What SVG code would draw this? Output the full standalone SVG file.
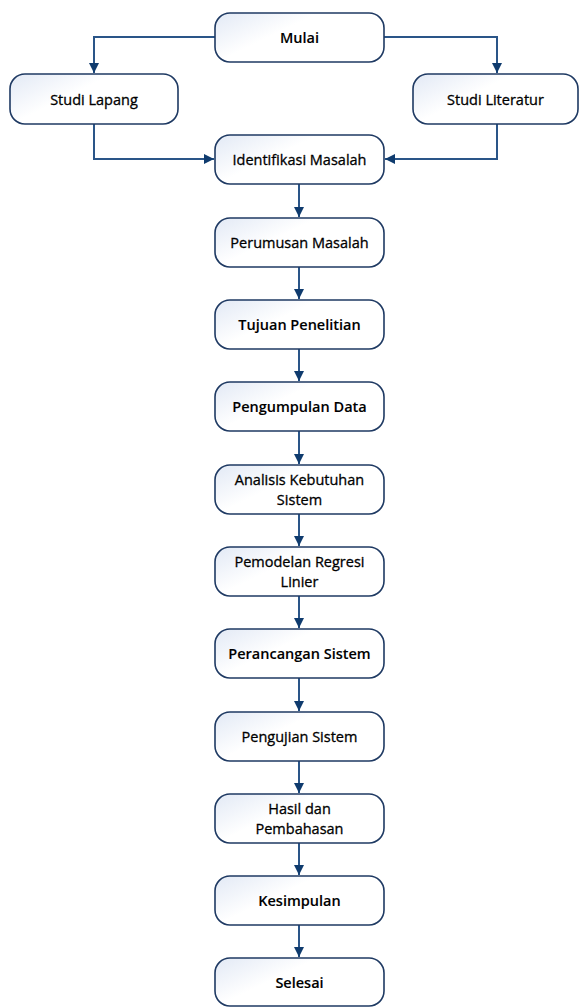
<svg xmlns="http://www.w3.org/2000/svg" width="579" height="1008" viewBox="0 0 579 1008">
<defs>
<linearGradient id="g" x1="0" y1="0" x2="1" y2="0.6">
<stop offset="0" stop-color="#E2E9F5"/>
<stop offset="0.45" stop-color="#FFFFFF"/>
<stop offset="1" stop-color="#FFFFFF"/>
</linearGradient>
<marker id="ah" viewBox="0 0 10 10" refX="10" refY="5" markerWidth="10" markerHeight="10" markerUnits="userSpaceOnUse" orient="auto">
<path d="M0,0 L10,5 L0,10 Z" fill="#0F3B6E"/>
</marker>
<style>
.box{fill:url(#g);stroke:#1F3A63;stroke-width:1.6}
.t{font-family:"Open Sans","Noto Sans",sans-serif;font-size:14.5px;fill:#000;stroke:#000;stroke-width:0.3;text-anchor:middle;dominant-baseline:central}
.b{font-weight:600;stroke-width:0.1}
.c{fill:none;stroke:#2A5588;stroke-width:2;marker-end:url(#ah)}
</style>
</defs>
<rect width="579" height="1008" fill="#FFFFFF"/>
<g id="connectors">
<path class="c" d="M215,37 H94 V73"/>
<path class="c" d="M384,37 H497 V73"/>
<path class="c" d="M94,124 V159 H214"/>
<path class="c" d="M497,124 V159 H385"/>
<path class="c" d="M299,184 V217"/>
<path class="c" d="M299,267 V299"/>
<path class="c" d="M299,349 V381"/>
<path class="c" d="M299,431 V464"/>
<path class="c" d="M299,514 V546"/>
<path class="c" d="M299,596 V628"/>
<path class="c" d="M299,678 V711"/>
<path class="c" d="M299,761 V793"/>
<path class="c" d="M299,843 V875"/>
<path class="c" d="M299,925 V957"/>
</g>
<g id="mulai"><rect class="box" x="215" y="13" width="169" height="49" rx="15"/><text class="t b" x="299.5" y="37.5">Mulai</text></g>
<g id="studi-lapang"><rect class="box" x="10" y="74" width="168" height="50" rx="15"/><text class="t" x="94" y="99">Studi Lapang</text></g>
<g id="studi-literatur"><rect class="box" x="413" y="74" width="165" height="50" rx="15"/><text class="t" x="495.5" y="99">Studi Literatur</text></g>
<g id="identifikasi"><rect class="box" x="215" y="135" width="169" height="49" rx="15"/><text class="t" x="299.5" y="159.5">Identifikasi Masalah</text></g>
<g id="perumusan"><rect class="box" x="215" y="218" width="169" height="49" rx="15"/><text class="t" x="299.5" y="242.5">Perumusan Masalah</text></g>
<g id="tujuan"><rect class="box" x="215" y="300" width="169" height="49" rx="15"/><text class="t b" x="299.5" y="324.5">Tujuan Penelitian</text></g>
<g id="pengumpulan"><rect class="box" x="215" y="382" width="169" height="49" rx="15"/><text class="t b" x="299.5" y="406.5">Pengumpulan Data</text></g>
<g id="analisis"><rect class="box" x="215" y="465" width="169" height="49" rx="15"/><text class="t" x="299.5" y="479">Analisis Kebutuhan</text><text class="t" x="299.5" y="499">Sistem</text></g>
<g id="pemodelan"><rect class="box" x="215" y="547" width="169" height="49" rx="15"/><text class="t" x="299.5" y="561">Pemodelan Regresi</text><text class="t" x="299.5" y="581">Linier</text></g>
<g id="perancangan"><rect class="box" x="215" y="629" width="169" height="49" rx="15"/><text class="t b" x="299.5" y="653.5">Perancangan Sistem</text></g>
<g id="pengujian"><rect class="box" x="215" y="712" width="169" height="49" rx="15"/><text class="t" x="299.5" y="736.5">Pengujian Sistem</text></g>
<g id="hasil"><rect class="box" x="215" y="794" width="169" height="49" rx="15"/><text class="t" x="299.5" y="808">Hasil dan</text><text class="t" x="299.5" y="828">Pembahasan</text></g>
<g id="kesimpulan"><rect class="box" x="215" y="876" width="169" height="49" rx="15"/><text class="t b" x="299.5" y="900.5">Kesimpulan</text></g>
<g id="selesai"><rect class="box" x="215" y="958" width="169" height="48" rx="15"/><text class="t b" x="299.5" y="982">Selesai</text></g>
</svg>
